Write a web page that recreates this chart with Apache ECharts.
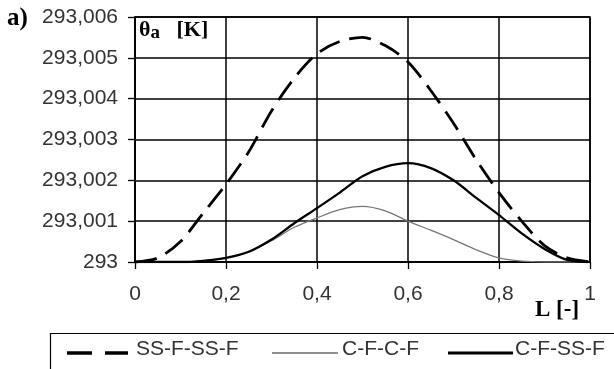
<!DOCTYPE html>
<html><head><meta charset="utf-8">
<script src="https://cdn.jsdelivr.net/npm/echarts@6/dist/echarts.min.js"></script>
<style>html,body{margin:0;padding:0;background:#fff}#c{width:614px;height:369px}</style>
</head><body><div id="c"></div>
<script>
const L = [0,0.05,0.1,0.15,0.2,0.25,0.3,0.35,0.4,0.45,0.5,0.55,0.6,0.65,0.7,0.75,0.8,0.85,0.9,0.95,1];
const ssfssf = [293,293.0001,293.0005,293.0012,293.0019,293.0027,293.0037,293.0045,293.0051,293.0054,293.0055,293.0053,293.0049,293.0042,293.0034,293.0025,293.0017,293.0010,293.0004,293.0001,293];
const cfcf = [293,293,293,293.00003,293.0001,293.00025,293.00052,293.00085,293.00108,293.00128,293.00136,293.00125,293.0010,293.00078,293.00055,293.0003,293.0001,293.00002,293,293,293];
const cfssf = [293,293,293,293.00003,293.0001,293.00025,293.00055,293.00095,293.00132,293.0017,293.0021,293.00233,293.00242,293.0023,293.0020,293.00157,293.00115,293.0007,293.00032,293.00005,293];
const xTicks = ['0','0,2','0,4','0,6','0,8','1'];
const names = ['SS-F-SS-F','C-F-C-F','C-F-SS-F'];

const pairs = a => L.map((x,i)=>[x,a[i]]);
const chart = echarts.init(document.getElementById('c'));
const font = 'Liberation Sans, Arial, sans-serif';
const serif = 'Liberation Serif, Times New Roman, serif';
const txt = '#333';
chart.setOption({
  animation:false,
  backgroundColor:'#fff',
  grid:{left:135,right:24,top:17,bottom:107,show:true,borderColor:'#000',borderWidth:1.5,backgroundColor:'transparent'},
  xAxis:{type:'value',min:0,max:1,interval:0.2,
    axisLine:{show:true,lineStyle:{color:'#000',width:1.5}},
    axisTick:{show:true,length:7,lineStyle:{color:'#000',width:1.3}},
    splitLine:{show:true,lineStyle:{color:'#000',width:1.5}},
    axisLabel:{margin:22,fontFamily:font,fontSize:21,color:txt,
      formatter:v=>xTicks[Math.round(v/0.2)]}
  },
  yAxis:{type:'value',min:293,max:293.006,interval:0.001,
    axisLine:{show:true,lineStyle:{color:'#000',width:1.5}},
    axisTick:{show:true,length:7,lineStyle:{color:'#000',width:1.3}},
    splitLine:{show:true,lineStyle:{color:'#000',width:1.5}},
    axisLabel:{margin:17,fontFamily:font,fontSize:21,color:txt,
      formatter:v=>Math.abs(v-293)<1e-9?'293':v.toFixed(3).replace('.',',')}
  },
  graphic:[
    {type:'rect',shape:{x:50.5,y:333.5,width:600,height:80},style:{fill:'none',stroke:'#000',lineWidth:1.2}},
    {type:'line',shape:{x1:67,y1:353,x2:128,y2:353},style:{stroke:'#000',lineWidth:3.5,lineDash:[25,13]}},
    {type:'text',left:136,top:339,style:{text:names[0],font:'21px '+font,fill:txt}},
    {type:'line',shape:{x1:272,y1:353,x2:338,y2:353},style:{stroke:'#222',lineWidth:1.2}},
    {type:'text',left:342,top:339,style:{text:names[1],font:'21px '+font,fill:txt}},
    {type:'line',shape:{x1:448,y1:353,x2:513,y2:353},style:{stroke:'#000',lineWidth:3}},
    {type:'text',left:515,top:339,style:{text:names[2],font:'21px '+font,fill:txt}},
    {type:'text',left:7,top:6,style:{text:'a)',font:'bold 25px '+serif,fill:'#000'}},
    {type:'text',left:139,top:19,style:{text:'θ{s|a}   [K]',font:'bold 22px '+serif,fill:'#000',
      rich:{s:{fontFamily:serif,fontWeight:'bold',fontSize:19,padding:[7,0,0,0]}}}},
    {type:'text',left:535,top:299,style:{text:'L [-]',font:'bold 23px '+serif,fill:'#000'}}
  ],
  series:[
    {name:names[0],type:'line',data:pairs(ssfssf),smooth:0.3,symbol:'none',
     lineStyle:{color:'#000',width:2.8,type:[22,10]}},
    {name:names[1],type:'line',data:pairs(cfcf),smooth:0.3,symbol:'none',
     lineStyle:{color:'#777',width:1.3}},
    {name:names[2],type:'line',data:pairs(cfssf),smooth:0.3,symbol:'none',
     lineStyle:{color:'#000',width:2.3}}
  ]
});
</script></body></html>
